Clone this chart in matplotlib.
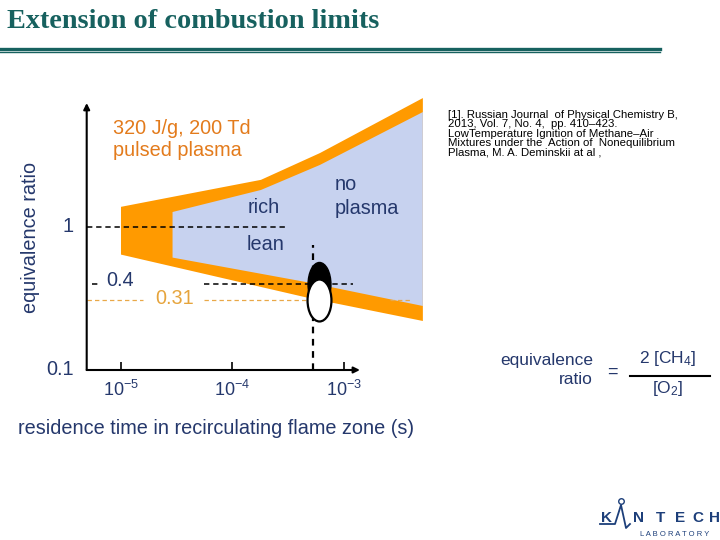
import numpy as np
import matplotlib
matplotlib.use("Agg")
import matplotlib.pyplot as plt
from matplotlib.path import Path
from matplotlib.transforms import Affine2D
from matplotlib.ticker import NullLocator

plt.rcParams['font.family'] = ['Liberation Sans', 'DejaVu Sans']
plt.rcParams['mathtext.default'] = 'regular'

# ignition limit band with plasma (outer, orange) and without (inner, blue)
tau_plasma_rich = [1.0e-5, 2.9e-5, 1.8e-4, 6.1e-4, 5.1e-3]
phi_plasma_rich = [1.38, 1.62, 2.13, 3.28, 7.94]
tau_plasma_lean = [1.0e-5, 4.7e-4, 5.1e-3]
phi_plasma_lean = [0.64, 0.32, 0.22]

tau_noplasma_rich = [2.9e-5, 1.8e-4, 6.1e-4, 5.1e-3]
phi_noplasma_rich = [1.27, 1.81, 2.71, 6.34]
tau_noplasma_lean = [2.9e-5, 4.7e-4, 5.1e-3]
phi_noplasma_lean = [0.61, 0.41, 0.28]

# lean limits at the operating point
tau_point = 6.0e-4
phi_limit_noplasma = 0.40
phi_limit_plasma = 0.31
tau_guide = 5.27e-4

xticks = [1e-5, 1e-4, 1e-3]
xtick_labels = ['$10^{\u22125}$', '$10^{\u22124}$', '$10^{\u22123}$']

ref_lines = ["[1]. Russian Journal  of Physical Chemistry B,",
             "2013, Vol. 7, No. 4,  pp. 410\u2013423.",
             "LowTemperature Ignition of Methane\u2013Air",
             "Mixtures under the  Action of  Nonequilibrium",
             "Plasma, M. A. Deminskii at al ,"]

navy = '#25386c'
orange = '#ff9a00'
blue = '#c7d2ef'
teal = '#17615f'

W, H = 720, 540
fig = plt.figure(figsize=(7.2, 5.4), dpi=100)


def fx(x):
    return x / W


def fy(y):
    return 1 - y / H


# title and double rule
fig.text(fx(7), fy(28.5), "Extension of combustion limits", family='Liberation Serif',
         fontsize=20.3, fontweight='bold', color=teal, va='baseline')
fig.add_artist(plt.Line2D([0, fx(660)], [fy(48.5), fy(48.5)], color=teal, lw=2.4))
fig.add_artist(plt.Line2D([0, fx(660)], [fy(52), fy(52)], color=teal, lw=1.0))

ax = fig.add_axes([fx(86.7), fy(370), fx(425) - fx(86.7), fy(95) - fy(370)])
ax.set_xscale('log')
ax.set_yscale('log')
ax.set_xlim(4.925e-6, 5.33e-3)
ax.set_ylim(0.1, 8.34)
for s in ax.spines.values():
    s.set_visible(False)
ax.patch.set_alpha(0)

ax.fill(np.r_[tau_plasma_rich, tau_plasma_lean[::-1]],
        np.r_[phi_plasma_rich, phi_plasma_lean[::-1]], color=orange, lw=0, zorder=1)
ax.fill(np.r_[tau_noplasma_rich, tau_noplasma_lean[::-1]],
        np.r_[phi_noplasma_rich, phi_noplasma_lean[::-1]], color=blue, lw=0, zorder=1.5)

# guide lines
dash = dict(ls=(0, (3.5, 2.5)), lw=1.1, zorder=2)
ax.plot([4.925e-6, 3.15e-4], [1, 1], color='black', **dash)
ax.plot([5.5e-6, 6.5e-6], [phi_limit_noplasma] * 2, color='black', **dash)
ax.plot([5.55e-5, 1.2e-3], [phi_limit_noplasma] * 2, color='black', **dash)
for a, b in [(5.0e-6, 1.57e-5), (5.55e-5, 4.96e-4), (2.6e-3, 3.9e-3)]:
    ax.plot([a, b], [phi_limit_plasma] * 2, color='#e9a848', ls=(0, (3.5, 2.5)), lw=0.9, zorder=2)
ax.plot([tau_guide, tau_guide], [0.1, 0.75], color='black', ls=(0, (3, 2.5)), lw=1.6, zorder=2)

# ellipse markers
ell_black = Affine2D().scale(0.52, 1).transform_path(Path.unit_circle())
ell_white = Affine2D().scale(0.57, 1).transform_path(Path.unit_circle())
ax.plot([tau_point], [phi_limit_noplasma], marker=ell_black, ms=31.7, color='black',
        mec='black', ls='none', zorder=3)
ax.plot([tau_point], [phi_limit_plasma], marker=ell_white, ms=30.2, mfc='white',
        mec='black', mew=1.6, ls='none', zorder=4)

# axes arrows
ax.annotate('', xy=(0, 7.33), xytext=(0, 0.1), xycoords=('axes fraction', 'data'),
            textcoords=('axes fraction', 'data'),
            arrowprops=dict(arrowstyle='-|>', lw=1.5, color='black', mutation_scale=9,
                            shrinkA=0, shrinkB=0), annotation_clip=False)
ax.annotate('', xy=(1.39e-3, 0), xytext=(4.925e-6, 0), xycoords=('data', 'axes fraction'),
            textcoords=('data', 'axes fraction'),
            arrowprops=dict(arrowstyle='-|>', lw=1.5, color='black', mutation_scale=9,
                            shrinkA=0, shrinkB=0), annotation_clip=False)

ax.set_xticks(xticks)
ax.set_xticklabels(xtick_labels, fontsize=13, color=navy)
ax.xaxis.set_minor_locator(NullLocator())
ax.yaxis.set_major_locator(NullLocator())
ax.yaxis.set_minor_locator(NullLocator())
ax.tick_params(axis='x', direction='in', length=6, width=1.2, pad=7, color='black')

# labels on the chart
txt = dict(fontsize=14.3, va='baseline')
fig.text(fx(113), fy(134), "320 J/g, 200 Td", color='#e37b1c', **txt)
fig.text(fx(113), fy(156.5), "pulsed plasma", color='#e37b1c', **txt)
fig.text(fx(248), fy(213), "rich", color=navy, **txt)
fig.text(fx(246.5), fy(249.5), "lean", color=navy, **txt)
fig.text(fx(335), fy(190), "no", color=navy, **txt)
fig.text(fx(335), fy(214), "plasma", color=navy, **txt)
fig.text(fx(74), fy(232.5), "1", color=navy, ha='right', **txt)
fig.text(fx(106.5), fy(286.5), "0.4", color=navy, **txt)
fig.text(fx(155), fy(303.5), "0.31", color='#e6a43c', **txt)
fig.text(fx(46.5), fy(375), "0.1", color=navy, **txt)
fig.text(fx(18), fy(434), "residence time in recirculating flame zone (s)", color=navy, **txt)
fig.text(fx(31), fy(237), "equivalence ratio", color=navy, fontsize=14.3, rotation=90,
         ha='center', va='center')

# reference, one block of lines
fig.text(fx(448), fy(110), "\n".join(ref_lines), fontsize=8.2, color='black',
         va='top', ha='left', linespacing=0.93)

# definition of equivalence ratio
fig.text(fx(593), fy(364.5), "equivalence", color=navy, ha='right', **dict(txt, fontsize=12.5))
fig.text(fx(593), fy(384), "ratio", color=navy, ha='right', **dict(txt, fontsize=12.5))
fig.text(fx(612), fy(372), "=", color=navy, ha='center', va='center', fontsize=13)
fig.text(fx(668), fy(363.5), "2 [CH$_4$]", color=navy, ha='center', **dict(txt, fontsize=12.5))
fig.text(fx(668), fy(393.5), "[O$_2$]", color=navy, ha='center', **dict(txt, fontsize=12.5))
fig.add_artist(plt.Line2D([fx(630), fx(710)], [fy(375.5), fy(375.5)], color='black', lw=1.5))

# logo
logo = '#1d3f7a'
fig.text(fx(606), fy(522), "K", color=logo, fontsize=11, fontweight='bold', ha='center', va='baseline')
for x, ch in zip([638, 660, 680, 698, 714], "NTECH"):
    fig.text(fx(x), fy(522), ch, color=logo, fontsize=11, fontweight='bold', ha='center', va='baseline')
fig.text(fx(675), fy(536), "L A B O R A T O R Y", color=logo, fontsize=5.5, ha='center', va='baseline')
fig.add_artist(plt.Line2D([fx(p) for p in [600, 615, 621, 626, 630]],
                          [fy(p) for p in [524, 524, 505, 528, 524]], color=logo, lw=1.3))
fig.add_artist(plt.Line2D([fx(621)], [fy(501)], marker='o', ms=4, mfc='white', mec=logo, mew=1))

fig.savefig("out.png", dpi=100)
